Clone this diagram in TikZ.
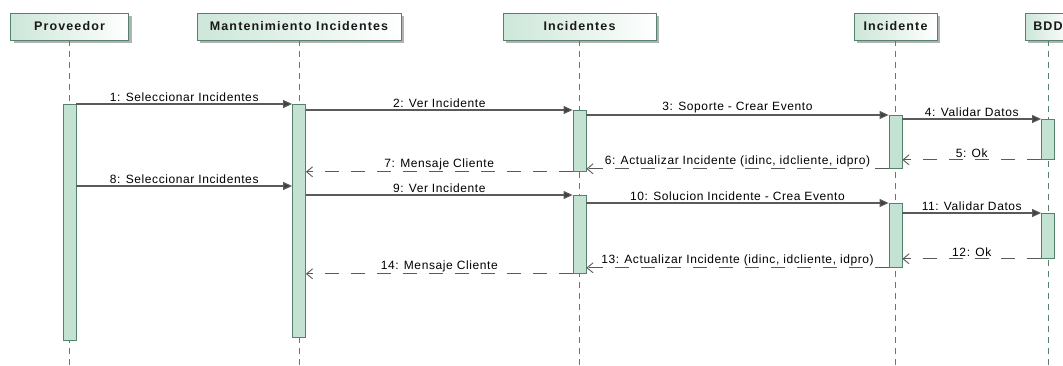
\documentclass[tikz,border=0pt]{standalone}
\usepackage{fontspec}
\setmainfont{Liberation Sans}
\usetikzlibrary{arrows.meta,shadows}
\definecolor{lfl}{RGB}{84,130,108}
\definecolor{act}{RGB}{196,226,210}
\definecolor{msg}{RGB}{90,90,90}

\begin{document}
\begin{tikzpicture}[x=1pt,y=-1pt,font=\fontsize{12}{14}\selectfont\addfontfeature{LetterSpace=5},
  hdr/.style={draw=lfl,thick,left color=act!85,right color=white,minimum height=27pt,inner sep=0pt,text=black!90,
    font=\fontsize{12.5}{14}\selectfont\bfseries\addfontfeature{LetterSpace=9},
    drop shadow={shadow xshift=3pt,shadow yshift=-3pt,fill=black!30,opacity=1}},
  life/.style={draw=lfl,thick,dash pattern=on 6pt off 5pt},
  bar/.style={draw=lfl,thick,fill=act,minimum width=13pt,inner sep=0pt,anchor=north},
  call/.style={draw=msg,line width=1.1pt,-{Triangle[length=9pt,width=8pt,fill=black!75]}},
  ret/.style={draw=msg,line width=1.1pt,dash pattern=on 14pt off 12pt,-{Straight Barb[length=6pt,width=10pt,line width=0.9pt]}},
  lbl/.style={above=0.5pt,inner sep=1pt,text=black}]
  \useasboundingbox (0,0) rectangle (1063,365);
  \coordinate (bottom) at (0,365);
  \coordinate (m8) at (0,186);
  % lifelines
  \node[hdr,minimum width=118pt] (prov) at (69.5,26.5) {Proveedor};
  \node[hdr,minimum width=204pt] (mant) at (299,26.5) {Mantenimiento Incidentes};
  \node[hdr,minimum width=153pt] (incs) at (579.5,26.5) {Incidentes};
  \node[hdr,minimum width=83pt] (inc) at (895.5,26.5) {Incidente};
  \node[hdr,minimum width=46pt] (bdd) at (1048,26.5) {BDD};
  \foreach \n in {prov,mant,incs,inc,bdd}
    \draw[life] (\n.south) -- (\n.south |- bottom);
  % activations
  \node[bar,minimum height=236pt] (provA) at (69.5,104) {};
  \node[bar,minimum height=233pt] (mantA) at (299,104) {};
  \node[bar,minimum height=61pt] (incsA) at (579.5,110) {};
  \node[bar,minimum height=78pt] (incsB) at (579.5,195) {};
  \node[bar,minimum height=53pt] (incA) at (895.5,115) {};
  \node[bar,minimum height=64pt] (incB) at (895.5,203) {};
  \node[bar,minimum height=40pt] (bddA) at (1048,119) {};
  \node[bar,minimum height=45pt] (bddB) at (1048,213) {};
  % messages
  \draw[call] (provA.north east) -- node[lbl]{1: Seleccionar Incidentes} (mantA.north west);
  \draw[call] (mantA.east |- incsA.north) -- node[lbl]{2: Ver Incidente} (incsA.north west);
  \draw[call] (incsA.east |- incA.north) -- node[lbl]{3: Soporte - Crear Evento} (incA.north west);
  \draw[call] (incA.east |- bddA.north) -- node[lbl]{4: Validar Datos} (bddA.north west);
  \draw[ret] (bddA.south west) -- node[lbl]{5: Ok} (incA.east |- bddA.south);
  \draw[ret] (incA.south west) -- node[lbl]{6: Actualizar Incidente (idinc, idcliente, idpro)} (incsA.east |- incA.south);
  \draw[ret] (incsA.south west) -- node[lbl]{7: Mensaje Cliente} (mantA.east |- incsA.south);
  \draw[call] (provA.east |- m8) -- node[lbl]{8: Seleccionar Incidentes} (mantA.west |- m8);
  \draw[call] (mantA.east |- incsB.north) -- node[lbl]{9: Ver Incidente} (incsB.north west);
  \draw[call] (incsB.east |- incB.north) -- node[lbl]{10: Solucion Incidente - Crea Evento} (incB.north west);
  \draw[call] (incB.east |- bddB.north) -- node[lbl]{11: Validar Datos} (bddB.north west);
  \draw[ret] (bddB.south west) -- node[lbl]{12: Ok} (incB.east |- bddB.south);
  \draw[ret] (incB.south west) -- node[lbl]{13: Actualizar Incidente (idinc, idcliente, idpro)} (incsB.east |- incB.south);
  \draw[ret] (incsB.south west) -- node[lbl]{14: Mensaje Cliente} (mantA.east |- incsB.south);
\end{tikzpicture}
\end{document}
